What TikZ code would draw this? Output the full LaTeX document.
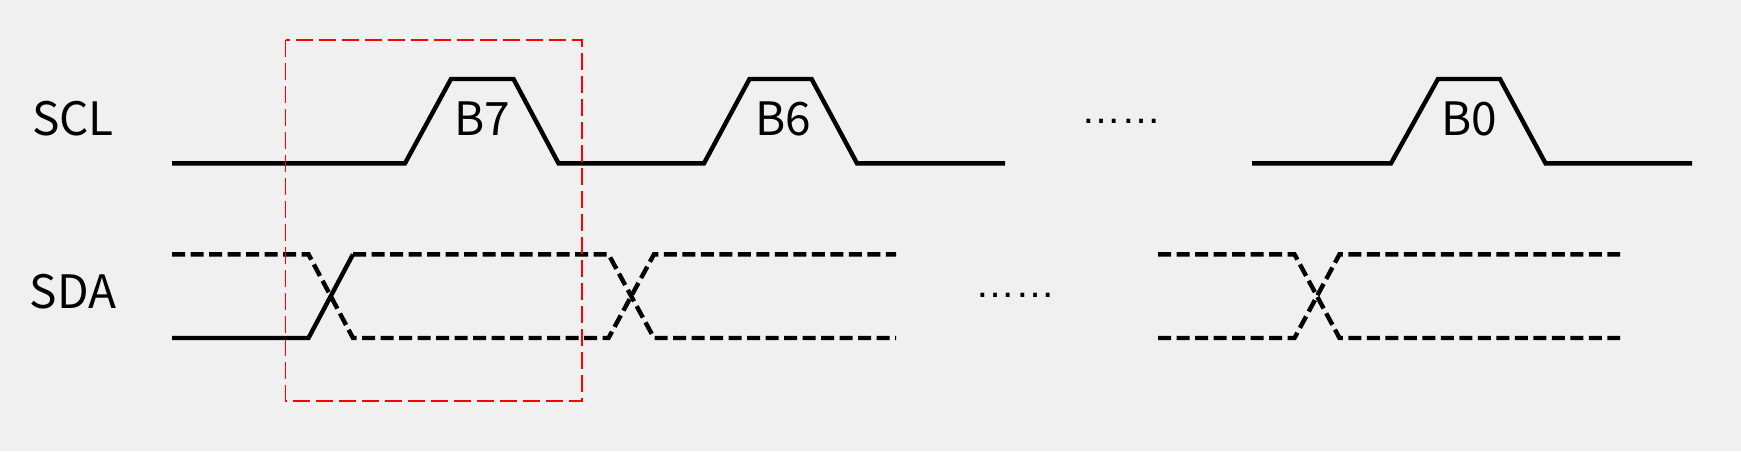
\documentclass[tikz,border=0pt]{standalone}
\usepackage{fontspec}
\setmainfont{Noto Sans CJK SC}
\newfontfamily\dotfont{Liberation Sans}
\definecolor{bg}{RGB}{240,240,240}
\begin{document}
\begin{tikzpicture}[x=1pt,y=-1pt,
  wave/.style={line width=4.4pt,black},
  dwave/.style={line width=4.4pt,black,dash pattern=on 13pt off 5.5pt},
  redbox/.style={line width=1.8pt,red,dash pattern=on 17pt off 6pt},
  lbl/.style={anchor=base,inner sep=0pt,font=\fontsize{46}{50}\selectfont},
  dots/.style={anchor=base,inner sep=0pt,font=\dotfont\fontsize{40}{44}\selectfont}]
\fill[bg] (0,0) rectangle (1741,451);
\useasboundingbox (0,0) rectangle (1741,451);
% labels
\node[lbl] (scl) at (73,135) {SCL};
\node[lbl] (sda) at (73,308) {SDA};
\node[lbl] (b7) at (482.5,135) {B7};
\node[lbl] (b6) at (783,135) {B6};
\node[lbl] (b0) at (1469.5,135) {B0};
\node[dots] (d1) at (1121,123) {……};
\node[dots] (d2) at (1015.5,297) {……};
% SCL
\draw[wave] (172,163.3) -- (405,163.3) -- (451,79) -- (513.5,79) -- (558.5,163.3) -- (704,163.3) -- (749.5,79) -- (811.6,79) -- (857,163.3) -- (1005,163.3);
\draw[wave] (1252,163.3) -- (1391,163.3) -- (1438,79) -- (1500,79) -- (1545.5,163.3) -- (1692,163.3);
% SDA
\draw[wave] (172,338) -- (308.5,338) -- (353,254.3);
\draw[dwave] (172,254.3) -- (308.5,254.3) -- (353,338) -- (608.5,338) -- (654,254.3) -- (896,254.3);
\draw[dwave] (353,254.3) -- (608.5,254.3) -- (654,338) -- (896,338);
\draw[dwave] (1158,254.3) -- (1294.5,254.3) -- (1339.5,338) -- (1620,338);
\draw[dwave] (1158,338) -- (1294.5,338) -- (1339.5,254.3) -- (1620,254.3);
% red box
\draw[redbox] (285.5,40) rectangle (582,401);
\end{tikzpicture}
\end{document}
